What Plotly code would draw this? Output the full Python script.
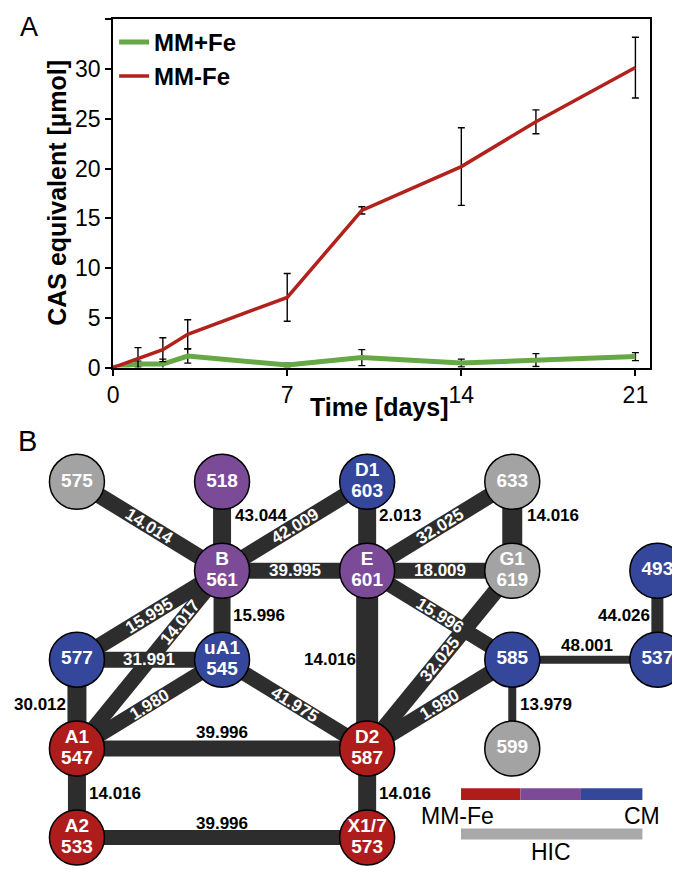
import math
import plotly.graph_objects as go

# ---------------- Panel A data ----------------
days = [0, 1, 2, 3, 7, 10, 14, 17, 21]
mm_plus_fe = [0.0, 0.35, 0.35, 1.15, 0.25, 1.0, 0.45, 0.75, 1.1]
mm_plus_fe_err = [0.0, 0.3, 0.5, 0.7, 0.2, 0.8, 0.4, 0.65, 0.4]
mm_minus_fe = [0.0, 0.9, 1.8, 3.35, 7.05, 15.8, 20.2, 24.7, 30.15]
mm_minus_fe_err = [0.0, 1.1, 1.2, 1.45, 2.4, 0.37, 3.9, 1.2, 3.05]
x_ticks = [0, 7, 14, 21]
y_ticks = [0, 5, 10, 15, 20, 25, 30, 35]

# ---------------- Panel B data ----------------
node_name = ["", "", "D1", "", "B", "E", "G1", "", "", "uA1", "", "", "A1", "D2", "", "A2", "X1/7"]
node_mass = ["575", "518", "603", "633", "561", "601", "619", "493", "577", "545",
             "585", "537", "547", "587", "599", "533", "573"]
node_group = ["HIC", "MID", "CM", "HIC", "MID", "MID", "HIC", "CM", "CM", "CM",
              "CM", "CM", "MMFE", "MMFE", "HIC", "MMFE", "MMFE"]
node_col = [0, 1, 2, 3, 1, 2, 3, 4, 0, 1, 3, 4, 0, 2, 3, 0, 2]
node_row = [0, 0, 0, 0, 1, 1, 1, 1, 2, 2, 2, 2, 3, 3, 3, 4, 4]

edge_from = ["575", "518", "561", "603", "601", "633", "561", "601", "561", "561", "561", "577", "545",
             "545", "601", "601", "619", "585", "585", "585", "493", "577", "547", "547", "587", "533"]
edge_to = ["561", "561", "603", "601", "633", "619", "601", "619", "577", "547", "545", "545", "547",
           "587", "587", "585", "587", "587", "537", "599", "537", "547", "587", "533", "573", "573"]
edge_delta = ["14.014", "43.044", "42.009", "2.013", "32.025", "14.016", "39.995", "18.009", "15.995",
              "14.017", "15.996", "31.991", "1.980", "41.975", "14.016", "15.996", "32.025", "1.980",
              "48.001", "13.979", "44.026", "30.012", "39.996", "14.016", "14.016", "39.996"]

legend_bar_labels = ["MM-Fe", "CM", "HIC"]

# ---------------- styles ----------------
W, H = 680, 873
FONT = "Liberation Sans, Arial, Helvetica, sans-serif"
GREEN = "#66a845"
RED_LINE = "#b3211c"
GROUP_COLOR = {"HIC": "#a3a3a3", "MID": "#7c4b98", "CM": "#34479b", "MMFE": "#ae1c1c"}
EDGE_COLOR = "#2d2d2d"

# edge widths (px) and label styles: ("on", t) white on edge; (side, xshift, yshift) black
edge_width = [16, 18, 16, 18, 16, 20, 16, 16, 16, 15, 17, 16, 15, 15, 22, 15, 16, 16, 8, 8, 12, 19, 16, 18, 18, 15]
edge_label = [("on", 0.5), ("right", 11, 11), ("on", 0.5), ("right", 10, 11), ("on", 0.5), ("right", 13, 11),
              ("on", 0.5), ("on", 0.5), ("on", 0.5), ("on", 0.29), ("right", 9, 0), ("on", 0.5), ("on", 0.5),
              ("on", 0.5), ("left", -9, 0), ("on", 0.5), ("on", 0.5), ("on", 0.5), ("above", 2, 14),
              ("right", 6, 0), ("left", -5, 0), ("left", -9, 0), ("above", 0, 16), ("right", 10, 0),
              ("right", 10, 0), ("above", 0, 14)]


def px2x(px):
    return px / W


def py2y(py):
    return 1 - py / H


fig = go.Figure()

# ---------------- Panel A ----------------
fig.add_trace(go.Scatter(
    x=days, y=mm_plus_fe, mode="lines", name="MM+Fe",
    line=dict(color=GREEN, width=5),
    error_y=dict(type="data", array=mm_plus_fe_err, visible=True, color="black", thickness=1.4, width=3.5),
    xaxis="x", yaxis="y"))
fig.add_trace(go.Scatter(
    x=days, y=mm_minus_fe, mode="lines", name="MM-Fe",
    line=dict(color=RED_LINE, width=3.5),
    error_y=dict(type="data", array=mm_minus_fe_err, visible=True, color="black", thickness=1.4, width=3.5),
    xaxis="x", yaxis="y"))

# ---------------- Panel B ----------------
COL_PX = 146.4
ROW_PX = 90.25
X0_PX, Y0_PX = 63.5, 481.0
B_TOP_PX = 419.0
x2_range = [-X0_PX / COL_PX, (W - X0_PX) / COL_PX]
y2_range = [(H - Y0_PX) / ROW_PX, (B_TOP_PX - Y0_PX) / ROW_PX]

idx = {m: i for i, m in enumerate(node_mass)}

# edges grouped by width
by_width = {}
for a, b, w in zip(edge_from, edge_to, edge_width):
    ia, ib = idx[a], idx[b]
    xs, ys = by_width.setdefault(w, ([], []))
    xs += [node_col[ia], node_col[ib], None]
    ys += [node_row[ia], node_row[ib], None]
for w, (xs, ys) in sorted(by_width.items()):
    fig.add_trace(go.Scatter(x=xs, y=ys, mode="lines", line=dict(color=EDGE_COLOR, width=w),
                             hoverinfo="skip", showlegend=False, xaxis="x2", yaxis="y2"))

# nodes
fig.add_trace(go.Scatter(
    x=node_col, y=node_row, mode="markers",
    marker=dict(size=55, color=[GROUP_COLOR[g] for g in node_group],
                line=dict(color="black", width=1.5)),
    hoverinfo="skip", showlegend=False, xaxis="x2", yaxis="y2"))

# node labels
tx, ty, tt = [], [], []
for name, mass, c, r in zip(node_name, node_mass, node_col, node_row):
    if name:
        tx += [c, c]
        ty += [r - 10.5 / ROW_PX, r + 10.5 / ROW_PX]
        tt += [name, mass]
    else:
        tx.append(c)
        ty.append(r)
        tt.append(mass)
fig.add_trace(go.Scatter(
    x=tx, y=ty, mode="text", text=tt, textposition="middle center",
    textfont=dict(family=FONT, size=19, color="white", weight="bold"),
    hoverinfo="skip", showlegend=False, xaxis="x2", yaxis="y2"))

annotations = []
# edge labels
for a, b, d, lab in zip(edge_from, edge_to, edge_delta, edge_label):
    ia, ib = idx[a], idx[b]
    xa, ya, xb, yb = node_col[ia], node_row[ia], node_col[ib], node_row[ib]
    if lab[0] == "on":
        t = lab[1]
        mx, my = xa + (xb - xa) * t, ya + (yb - ya) * t
        dxp, dyp = (xb - xa) * COL_PX, (yb - ya) * ROW_PX
        ang = math.degrees(math.atan2(dyp, dxp))
        if ang > 90:
            ang -= 180
        if ang < -90:
            ang += 180
        annotations.append(dict(x=mx, y=my, xref="x2", yref="y2", text=d, showarrow=False,
                                textangle=ang, xanchor="center", yanchor="middle",
                                font=dict(family=FONT, size=17, color="white", weight="bold")))
    else:
        side, xs, ys = lab
        mx, my = (xa + xb) / 2, (ya + yb) / 2
        anchor = {"right": "left", "left": "right", "above": "center"}[side]
        annotations.append(dict(x=mx, y=my, xref="x2", yref="y2", text=d, showarrow=False,
                                xanchor=anchor, yanchor="middle", xshift=xs, yshift=ys,
                                font=dict(family=FONT, size=17, color="black", weight="bold")))

# panel texts
annotations += [
    dict(x=px2x(4), y=py2y(19), xref="paper", yref="paper", text="A", showarrow=False,
         xanchor="left", yanchor="middle", font=dict(family=FONT, size=27, color="black")),
    dict(x=px2x(2), y=py2y(440), xref="paper", yref="paper", text="B", showarrow=False,
         xanchor="left", yanchor="middle", font=dict(family=FONT, size=29, color="black")),
    dict(x=px2x(368), y=py2y(405), xref="paper", yref="paper", text="Time [days]", showarrow=False,
         xanchor="center", yanchor="middle", font=dict(family=FONT, size=25, color="black", weight="bold")),
    dict(x=px2x(44), y=py2y(188), xref="paper", yref="paper", text="CAS equivalent [µmol]",
         showarrow=False, textangle=-90, xanchor="center", yanchor="middle",
         font=dict(family=FONT, size=25, color="black", weight="bold")),
    dict(x=px2x(409), y=py2y(820), xref="paper", yref="paper", text=legend_bar_labels[0], showarrow=False,
         xanchor="left", yanchor="middle", font=dict(family=FONT, size=23, color="black")),
    dict(x=px2x(654), y=py2y(820), xref="paper", yref="paper", text=legend_bar_labels[1], showarrow=False,
         xanchor="right", yanchor="middle", font=dict(family=FONT, size=23, color="black")),
    dict(x=px2x(542), y=py2y(857), xref="paper", yref="paper", text=legend_bar_labels[2], showarrow=False,
         xanchor="center", yanchor="middle", font=dict(family=FONT, size=23, color="black")),
]

# legend bar shapes
shapes = []
bar_segments = [(451, 511, GROUP_COLOR["MMFE"]), (511, 572, GROUP_COLOR["MID"]), (572, 634, GROUP_COLOR["CM"])]
for x0, x1, col in bar_segments:
    shapes.append(dict(type="rect", xref="paper", yref="paper", x0=px2x(x0), x1=px2x(x1),
                       y0=py2y(804), y1=py2y(792), fillcolor=col, line=dict(width=0)))
shapes.append(dict(type="rect", xref="paper", yref="paper", x0=px2x(451), x1=px2x(634),
                   y0=py2y(844), y1=py2y(833), fillcolor="#a8a8a8", line=dict(width=0)))

fig.update_layout(
    width=W, height=H,
    margin=dict(l=0, r=0, t=0, b=0),
    paper_bgcolor="white", plot_bgcolor="white",
    font=dict(family=FONT, color="black"),
    showlegend=True,
    legend=dict(x=px2x(101), y=py2y(12), xanchor="left", yanchor="top",
                bgcolor="rgba(0,0,0,0)", tracegroupgap=0,
                font=dict(family=FONT, size=24, color="black", weight="bold")),
    xaxis=dict(domain=[px2x(100), px2x(642)], range=[0, 21.6], tickvals=x_ticks,
               ticks="outside", ticklen=6, tickwidth=1.5, tickcolor="black",
               showline=True, linecolor="black", linewidth=2, mirror=True,
               showgrid=False, zeroline=False, tickfont=dict(family=FONT, size=23, color="black"),
               anchor="y", fixedrange=True),
    yaxis=dict(domain=[py2y(365), py2y(11)], range=[0, 35.05], tickvals=y_ticks,
               ticks="outside", ticklen=6, tickwidth=1.5, tickcolor="black",
               showline=True, linecolor="black", linewidth=2, mirror=True,
               showgrid=False, zeroline=False, tickfont=dict(family=FONT, size=23, color="black"),
               anchor="x", fixedrange=True),
    xaxis2=dict(domain=[0, 1], range=x2_range, visible=False, anchor="y2", fixedrange=True),
    yaxis2=dict(domain=[0, py2y(B_TOP_PX)], range=y2_range, visible=False, anchor="x2", fixedrange=True),
    annotations=annotations,
    shapes=shapes,
)

fig.write_html("out.html")
